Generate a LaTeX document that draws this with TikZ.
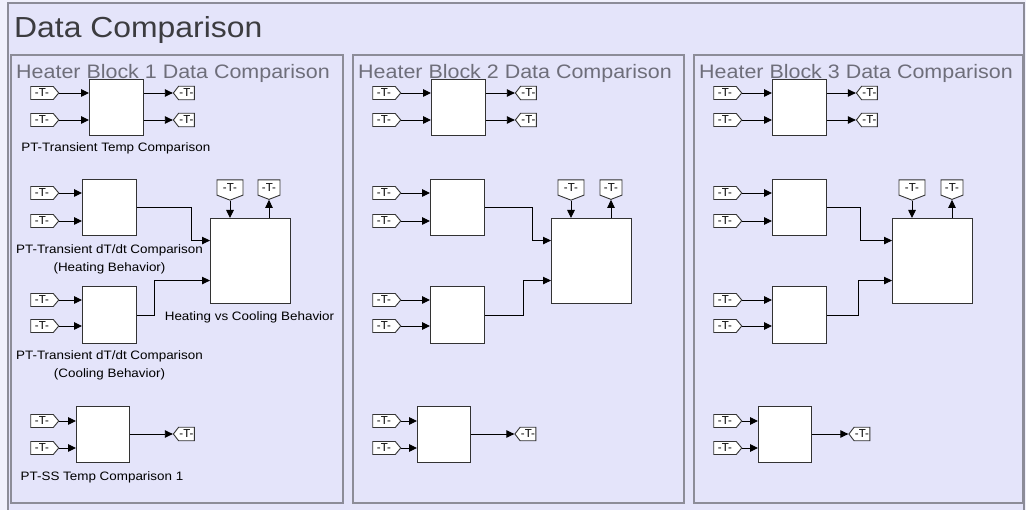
\documentclass[tikz,border=0pt]{standalone}
\usepackage{fontspec}
\setmainfont{Liberation Sans}
\usetikzlibrary{arrows.meta,shapes.symbols,calc}
\definecolor{canvasbg}{RGB}{240,240,252}
\definecolor{areabg}{RGB}{228,228,250}
\definecolor{arealine}{RGB}{140,140,152}
\definecolor{titlegray}{RGB}{60,60,64}
\definecolor{subgray}{RGB}{110,110,122}
\newcommand\wide[1]{\scalebox{1.1}[1]{#1}}
\begin{document}
\begin{tikzpicture}[x=1pt,y=-1pt,
  area/.style={draw=arealine, line width=1.2pt, fill=areabg},
  blk/.style={draw=black!80, line width=1.1pt, fill=white, inner sep=0pt, anchor=north west},
  tagbase/.style={signal, draw=black!80, line width=0.9pt, fill=white, inner sep=0pt,
    font=\fontsize{11.5}{11.5}\selectfont},
  tagE/.style={tagbase, signal to=east, signal pointer angle=100, minimum width=28pt, minimum height=13pt},
  tagW/.style={tagbase, signal to=west, signal pointer angle=105, minimum width=21pt, minimum height=13.5pt},
  tagS/.style={tagbase, signal to=south, signal pointer angle=138, minimum width=26pt, minimum height=18pt},
  arr/.style={draw=black, line width=0.9pt, -{Triangle[length=8pt,width=7.5pt]}},
  lbl/.style={font=\fontsize{12.2}{17.5}\selectfont, text=black, align=center, anchor=base, inner sep=0pt},
  areatitle/.style={anchor=base west, text=subgray, font=\fontsize{19.5}{20}\selectfont, inner sep=0pt},
]
\useasboundingbox (0,0) rectangle (1026,510);
\fill[canvasbg] (0,0) rectangle (1026,510);

% outer subsystem area
\draw[area] (8,3) rectangle (1024,514);
\node[anchor=base west, text=titlegray, font=\fontsize{29}{30}\selectfont, inner sep=0pt]
  (title) at (14,37.5) {\wide{Data Comparison}};

% the three heater block areas
\foreach \n/\l/\r in {1/11/343, 2/353/684, 3/694/1023} {
  \draw[area] (\l,55) rectangle (\r,503);
  \node[areatitle] (areatitle\n) at ({\l+5},78.5) {\wide{Heater Block \n\ Data Comparison}};
}

% blocks, tags and signal lines of each area
\foreach \p/\tx/\ax/\gx/\bx/\dx/\fx/\hx/\ex/\egx/\eb/\ec in
  {1/42/89/186.5/82/210/230/269/76/186.5/54/17,
   2/384/431/528.5/430/551/571/611/417/528/47/38,
   3/725/772/869.5/772/892/912/952/758/862/33/31} {
  % transient temperature comparison
  \node[blk, minimum width=54pt, minimum height=56pt] (a\p) at (\ax,79) {};
  \node[tagE] (a\p i1) at (\tx,93) {-T-};
  \node[tagE] (a\p i2) at (\tx,120) {-T-};
  \draw[arr] (a\p i1.east) -- (a\p i1.east -| a\p.west);
  \draw[arr] (a\p i2.east) -- (a\p i2.east -| a\p.west);
  \node[tagW] (a\p o1) at (\gx,93) {-T-};
  \node[tagW] (a\p o2) at (\gx,120) {-T-};
  \draw[arr] (a\p.east |- a\p o1.west) -- (a\p o1.west);
  \draw[arr] (a\p.east |- a\p o2.west) -- (a\p o2.west);
  % heating dT/dt comparison
  \node[blk, minimum width=54pt, minimum height=56pt] (b\p) at (\bx,179) {};
  \node[tagE] (b\p i1) at (\tx,193) {-T-};
  \node[tagE] (b\p i2) at (\tx,221) {-T-};
  \draw[arr] (b\p i1.east) -- (b\p i1.east -| b\p.west);
  \draw[arr] (b\p i2.east) -- (b\p i2.east -| b\p.west);
  % cooling dT/dt comparison
  \node[blk, minimum width=54pt, minimum height=57pt] (c\p) at (\bx,286) {};
  \node[tagE] (c\p i1) at (\tx,300) {-T-};
  \node[tagE] (c\p i2) at (\tx,326) {-T-};
  \draw[arr] (c\p i1.east) -- (c\p i1.east -| c\p.west);
  \draw[arr] (c\p i2.east) -- (c\p i2.east -| c\p.west);
  % heating vs cooling behavior
  \node[blk, minimum width=80pt, minimum height=85pt] (d\p) at (\dx,218) {};
  \coordinate (d\p in1) at ($(d\p.west)+(0,-20.5)$);
  \coordinate (d\p in2) at ($(d\p.west)+(0,19.5)$);
  \draw[arr] (b\p.east) -- ++(\eb,0) |- (d\p in1);
  \draw[arr] (c\p.east) -- ++(\ec,0) |- (d\p in2);
  \node[tagS] (d\p f) at (\fx,187.5) {-T-};
  \node[tagS, minimum width=22pt] (d\p g) at (\hx,187.5) {-T-};
  \draw[arr] (d\p f.south) -- (d\p f.south |- d\p.north);
  \draw[arr] (d\p g.south |- d\p.north) -- (d\p g.south);
  % steady state temperature comparison
  \node[blk, minimum width=53pt, minimum height=56pt] (e\p) at (\ex,406) {};
  \node[tagE] (e\p i1) at (\tx,421) {-T-};
  \node[tagE] (e\p i2) at (\tx,448) {-T-};
  \draw[arr] (e\p i1.east) -- (e\p i1.east -| e\p.west);
  \draw[arr] (e\p i2.east) -- (e\p i2.east -| e\p.west);
  \node[tagW] (e\p o) at (\egx,434) {-T-};
  \draw[arr] (e\p.east |- e\p o.west) -- (e\p o.west);
}

% block names of the first area (base anchor sits on the last line)
\node[lbl] (la1) at (115.8,152) {\wide{PT-Transient Temp Comparison}};
\node[lbl] (lb1) at (109.5,271.5) {\wide{PT-Transient dT/dt Comparison}\\\wide{(Heating Behavior)}};
\node[lbl] (lc1) at (109.5,377.5) {\wide{PT-Transient dT/dt Comparison}\\\wide{(Cooling Behavior)}};
\node[lbl] (ld1) at (249.5,321) {\wide{Heating vs Cooling Behavior}};
\node[lbl] (le1) at (102,480.5) {\wide{PT-SS Temp Comparison 1}};
\end{tikzpicture}
\end{document}
